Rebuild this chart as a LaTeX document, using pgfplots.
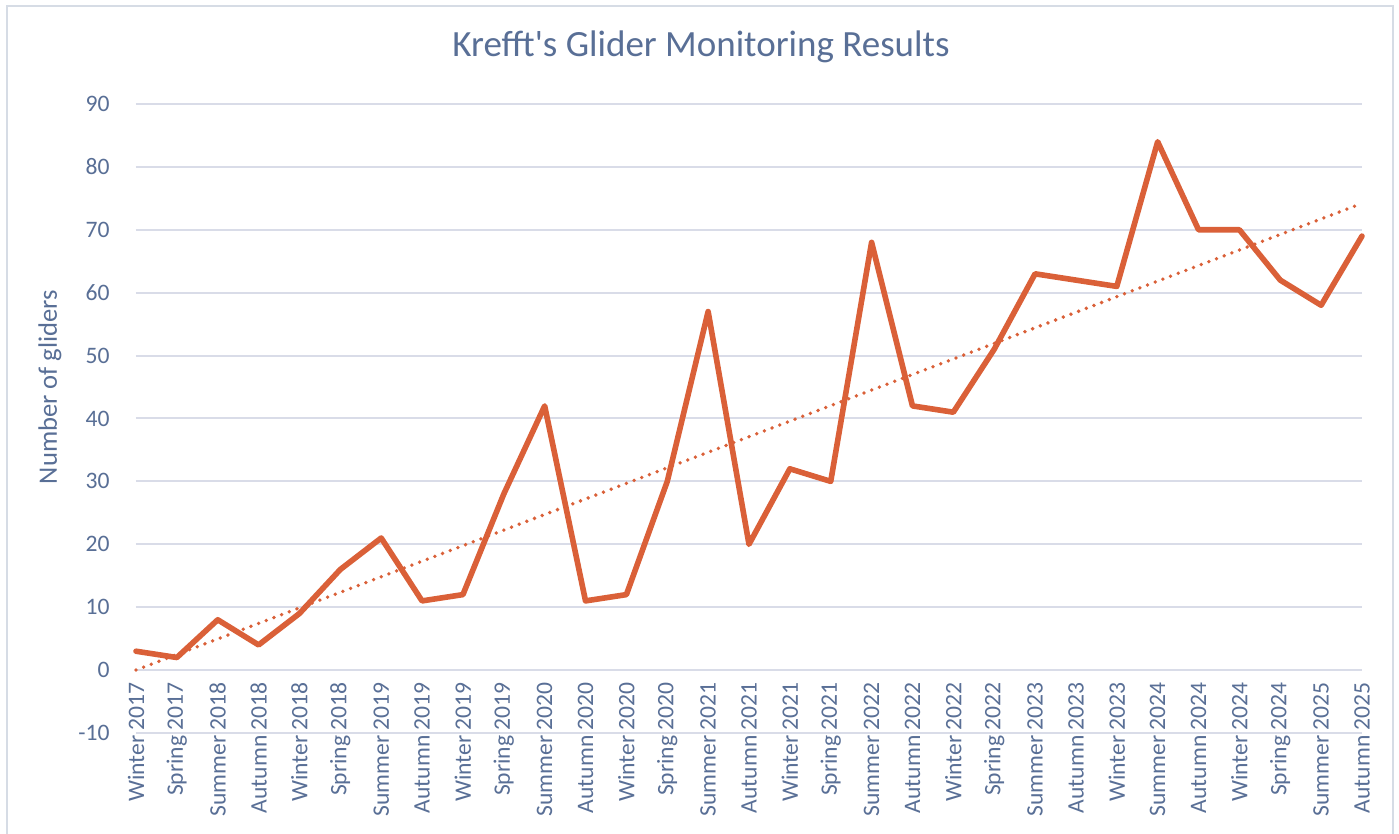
\documentclass[border=0pt]{standalone}
\usepackage{pgfplots}
\pgfplotsset{compat=1.18}
\usepackage{fontspec}
\setmainfont{Carlito}
\newfontfamily\plainfont{Carlito}
\definecolor{txtc}{RGB}{89,111,150}
\definecolor{gridc}{RGB}{217,220,232}
\definecolor{framec}{RGB}{214,220,229}
\definecolor{linec}{RGB}{218,96,56}
\begin{document}
\begin{tikzpicture}
\useasboundingbox (0,0) rectangle (699.5pt,417pt);
\fill[white] (0,0) rectangle (699.5pt,417pt);
\draw[framec,line width=0.8pt] (3.5pt,0) -- (3.5pt,414pt) -- (696.5pt,414pt) -- (696.5pt,0);
\node[text=txtc,font=\plainfont\fontsize{18.5}{20}\selectfont] at (350.5pt,393.5pt) {Krefft's Glider Monitoring Results};
\node[text=txtc,rotate=90,font=\fontsize{13.3}{15}\selectfont] at (25pt,223.5pt) {Number of gliders};
\begin{axis}[
  at={(68pt,50.5pt)}, anchor=south west,
  scale only axis, width=613pt, height=314.5pt,
  xmin=0, xmax=30, ymin=-10, ymax=90,
  axis line style={draw=none},
  major tick length=0pt,
  ytick={-10,0,...,90},
  ymajorgrids, grid style={color=gridc, line width=1pt},
  xtick={0,...,30},
  xticklabels={Winter 2017,Spring 2017,Summer 2018,Autumn 2018,Winter 2018,Spring 2018,Summer 2019,Autumn 2019,Winter 2019,Spring 2019,Summer 2020,Autumn 2020,Winter 2020,Spring 2020,Summer 2021,Autumn 2021,Winter 2021,Spring 2021,Summer 2022,Autumn 2022,Winter 2022,Spring 2022,Summer 2023,Autumn 2023,Winter 2023,Summer 2024,Autumn 2024,Winter 2024,Spring 2024,Summer 2025,Autumn 2025},
  xticklabel shift=-25.5pt,
  xticklabel style={rotate=90, anchor=east, font=\fontsize{11.8}{13}\selectfont, text=txtc, inner sep=0pt},
  yticklabel style={font=\fontsize{11.8}{13}\selectfont, text=txtc, anchor=east, inner sep=0pt, xshift=-13pt},
  /pgf/number format/assume math mode=true,
  clip=false,
]
\addplot[color=linec, line width=2.8pt, line join=round, line cap=round] coordinates {
(0,3)(1,2)(2,8)(3,4)(4,9)(5,16)(6,21)(7,11)(8,12)(9,28)(10,42)(11,11)(12,12)(13,30)(14,57)(15,20)(16,32)(17,30)(18,68)(19,42)(20,41)(21,51)(22,63)(23,62)(24,61)(25,84)(26,70)(27,70)(28,62)(29,58)(30,69)
};
\addplot[color=linec, line width=1.9pt, line cap=round, dash pattern=on 0pt off 4.1pt] coordinates {(0,0)(30,74.2)};
\end{axis}
\end{tikzpicture}
\end{document}
